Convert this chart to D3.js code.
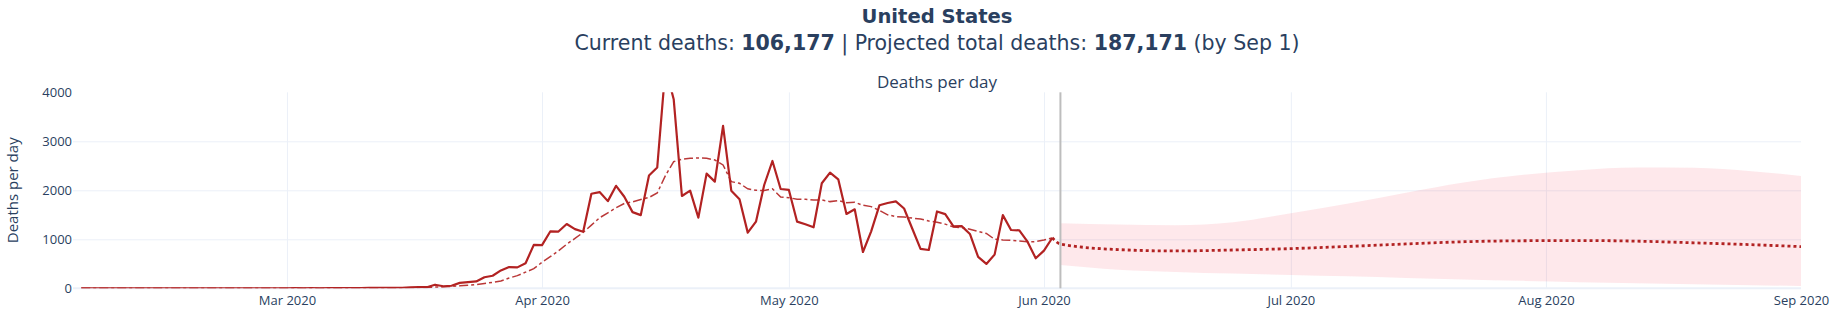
<!DOCTYPE html>
<html><head><meta charset="utf-8">
<script src="https://cdn.jsdelivr.net/npm/d3@7"></script>
<style>
html,body{margin:0;padding:0;background:#fff;}
svg{display:block;}
</style></head>
<body><svg id="chart" width="1837" height="324"></svg>
<script>
// ---------------- DATA ----------------
const seriesStart = "2020-02-05";           // first day of the daily series
const dailyDeaths = [
  0,0,0,0,0,0,0,0,0,0,0,0,0,0,0,0,0,0,0,0,0,0,0,0,1,
  1,5,1,4,1,2,3,4,4,5,
  8,7,10,9,10,19,23,22,73,42,
  52,110,125,140,226,257,365,433,427,512,
  886,880,1160,1158,1312,1208,1155,1929,1963,1779,
  2092,1868,1555,1493,2303,2466,4500,3860,1884,1993,
  1442,2340,2177,3313,1993,1816,1136,1360,2108,2598,
  2027,2007,1360,1306,1245,2143,2361,2225,1517,1612,
  741,1163,1694,1741,1775,1629,1216,803,782,1568,
  1513,1265,1268,1109,640,497,687,1493,1190,1183,
  952,612,769,1027
];
const smoothedDeaths = [
  0,0,0,0,0,0,0,0,0,0,0,0,0,0,0,0,0,0,0,0,0,0,0,0,1,
  1,1,2,2,2,2,3,3,4,4,
  5,6,7,8,9,11,14,18,24,30,
  38,50,62,75,100,122,150,210,258,330,
  400,530,645,765,900,1017,1140,1289,1439,1541,
  1643,1731,1765,1813,1854,1945,2300,2585,2633,2653,
  2660,2653,2619,2517,2177,2143,2030,2000,1995,2030,
  1865,1850,1816,1816,1803,1803,1769,1789,1748,1755,
  1694,1667,1590,1500,1463,1455,1432,1415,1374,1347,
  1310,1250,1240,1204,1160,1120,1000,986,980,966,
  952,952,986,1030
];
const projectionDates = ["2020-06-02","2020-06-03","2020-06-10","2020-06-17","2020-06-24","2020-07-01","2020-07-08","2020-07-15","2020-07-22","2020-07-29","2020-08-05","2020-08-12","2020-08-19","2020-08-26","2020-09-01"];
const projectedMean   = [1030,904,790,762,782,810,855,905,950,970,975,962,928,890,850];
const bandDates = ["2020-06-03","2020-06-10","2020-06-17","2020-06-24","2020-07-01","2020-07-08","2020-07-15","2020-07-22","2020-07-29","2020-08-05","2020-08-12","2020-08-19","2020-08-26","2020-09-01"];
const bandUpper = [1327,1300,1288,1350,1530,1730,1950,2160,2310,2410,2465,2462,2390,2293];
const bandLower = [475,378,335,300,272,245,212,180,152,126,102,82,63,48];
const todayDate = "2020-06-03";
const xDomain = ["2020-02-04","2020-09-01"];
const xTickDates  = ["2020-03-01","2020-04-01","2020-05-01","2020-06-01","2020-07-01","2020-08-01","2020-09-01"];
const xTickLabels = ["Mar 2020","Apr 2020","May 2020","Jun 2020","Jul 2020","Aug 2020","Sep 2020"];
const yTicks = [0,1000,2000,3000,4000];
const yGridTicks = [1000,2000,3000];
const chartTitle = "United States";
const currentDeaths = "106,177";
const projectedDeaths = "187,171";
const projectedBy = "Sep 1";
const panelTitle = "Deaths per day";
const yAxisTitle = "Deaths per day";

// ---------------- LAYOUT ----------------
const W = 1837, H = 324;
const plot = {left: 73, right: 1801, top: 92.3, bottom: 288.3};
const textColor = "#2a3f5f";
const gridColor = "#ebf0f8";
const red = "#b22222";
const tickFont = "'Open Sans', 'Noto Sans', sans-serif";

const parse = d3.utcParse("%Y-%m-%d");
const svg = d3.select("#chart");

const x = d3.scaleUtc().domain(xDomain.map(parse)).range([plot.left, plot.right]);
const y = d3.scaleLinear().domain([0, 4000]).range([plot.bottom, plot.top]);

const start = parse(seriesStart);
const daily = dailyDeaths.map((v, i) => ({date: d3.utcDay.offset(start, i), v}));
const smooth = smoothedDeaths.map((v, i) => ({date: d3.utcDay.offset(start, i), v}));
const proj = projectionDates.map((d, i) => ({date: parse(d), v: projectedMean[i]}));
const band = bandDates.map((d, i) => ({date: parse(d), hi: bandUpper[i], lo: bandLower[i]}));

svg.append("defs").append("clipPath").attr("id", "clip")
  .append("rect").attr("x", plot.left).attr("y", plot.top)
  .attr("width", plot.right - plot.left).attr("height", plot.bottom - plot.top);

// gridlines
const gy = svg.append("g").attr("transform", `translate(${plot.left},0)`)
  .call(d3.axisLeft(y).tickValues(yGridTicks).tickSize(-(plot.right - plot.left)).tickFormat(""));
gy.select(".domain").remove();
gy.selectAll("line").attr("stroke", gridColor).attr("stroke-width", 1);

const gx = svg.append("g").attr("transform", `translate(0,${plot.bottom})`)
  .call(d3.axisBottom(x).tickValues(xTickDates.slice(0, -1).map(parse)).tickSize(-(plot.bottom - plot.top)).tickFormat(""));
gx.select(".domain").remove();
gx.selectAll("line").attr("stroke", gridColor).attr("stroke-width", 1);

// zero line
svg.append("line").attr("x1", plot.left).attr("x2", plot.right)
  .attr("y1", y(0)).attr("y2", y(0)).attr("stroke", gridColor).attr("stroke-width", 2);

const g = svg.append("g").attr("clip-path", "url(#clip)");

// confidence band
g.append("path").datum(band)
  .attr("d", d3.area().x(d => x(d.date)).y0(d => y(d.lo)).y1(d => y(d.hi)).curve(d3.curveMonotoneX))
  .attr("fill", "rgba(242,30,60,0.1)").attr("stroke", "none");

// smoothed
g.append("path").datum(smooth)
  .attr("d", d3.line().x(d => x(d.date)).y(d => y(d.v)))
  .attr("fill", "none").attr("stroke", red).attr("stroke-width", 1.5)
  .attr("stroke-opacity", 0.9).attr("stroke-dasharray", "9,3,3,3");

// daily
g.append("path").datum(daily)
  .attr("d", d3.line().x(d => x(d.date)).y(d => y(d.v)))
  .attr("fill", "none").attr("stroke", red).attr("stroke-width", 2.2)
  .attr("stroke-linejoin", "round");

// projection
g.append("path").datum(proj)
  .attr("d", d3.line().x(d => x(d.date)).y(d => y(d.v)).curve(d3.curveMonotoneX))
  .attr("fill", "none").attr("stroke", red).attr("stroke-width", 2.8)
  .attr("stroke-dasharray", "3,3");

// today line
svg.append("line").attr("x1", x(parse(todayDate))).attr("x2", x(parse(todayDate)))
  .attr("y1", plot.top).attr("y2", plot.bottom)
  .attr("stroke", "#bdbdbd").attr("stroke-width", 2);

// axes labels
const ay = svg.append("g").attr("transform", `translate(${plot.left},0)`)
  .call(d3.axisLeft(y).tickValues(yTicks).tickSize(0).tickPadding(1).tickFormat(d3.format("d")));
ay.select(".domain").remove();
ay.selectAll("text").attr("fill", textColor).style("font-family", tickFont).style("font-size", "13px");

const ax = svg.append("g").attr("transform", `translate(0,${plot.bottom})`)
  .call(d3.axisBottom(x).tickValues(xTickDates.map(parse)).tickSize(0).tickPadding(7.5)
    .tickFormat((d, i) => xTickLabels[i]));
ax.select(".domain").remove();
ax.selectAll("text").attr("fill", textColor).style("font-family", tickFont).style("font-size", "13px");

// y axis title
svg.append("text").attr("transform", `translate(18,${(plot.top + plot.bottom) / 2}) rotate(-90)`)
  .attr("text-anchor", "middle").attr("fill", textColor)
  .style("font-family", tickFont).style("font-size", "15px").text(yAxisTitle);

// panel title
svg.append("text").attr("x", (plot.left + plot.right) / 2).attr("y", 88.3)
  .attr("text-anchor", "middle").attr("fill", textColor)
  .style("font-family", tickFont).style("font-size", "17px").text(panelTitle);

// main title
const titleFont = "'DejaVu Sans Condensed', 'DejaVu Sans', sans-serif";
const cx = (plot.left + plot.right) / 2;
svg.append("text").attr("x", cx).attr("y", 22.7).attr("text-anchor", "middle")
  .attr("fill", textColor).style("font-family", titleFont).style("font-size", "20px")
  .style("font-weight", "bold").attr("textLength", 151).attr("lengthAdjust", "spacingAndGlyphs")
  .text(chartTitle);

const sub = svg.append("text").attr("x", cx).attr("y", 50).attr("text-anchor", "middle")
  .attr("fill", textColor).style("font-family", titleFont).style("font-size", "21px")
  .attr("textLength", 725).attr("lengthAdjust", "spacingAndGlyphs");
sub.append("tspan").text("Current deaths: ");
sub.append("tspan").style("font-weight", "bold").text(currentDeaths);
sub.append("tspan").text(" | Projected total deaths: ");
sub.append("tspan").style("font-weight", "bold").text(projectedDeaths);
sub.append("tspan").text(` (by ${projectedBy})`);
</script>
</body></html>
